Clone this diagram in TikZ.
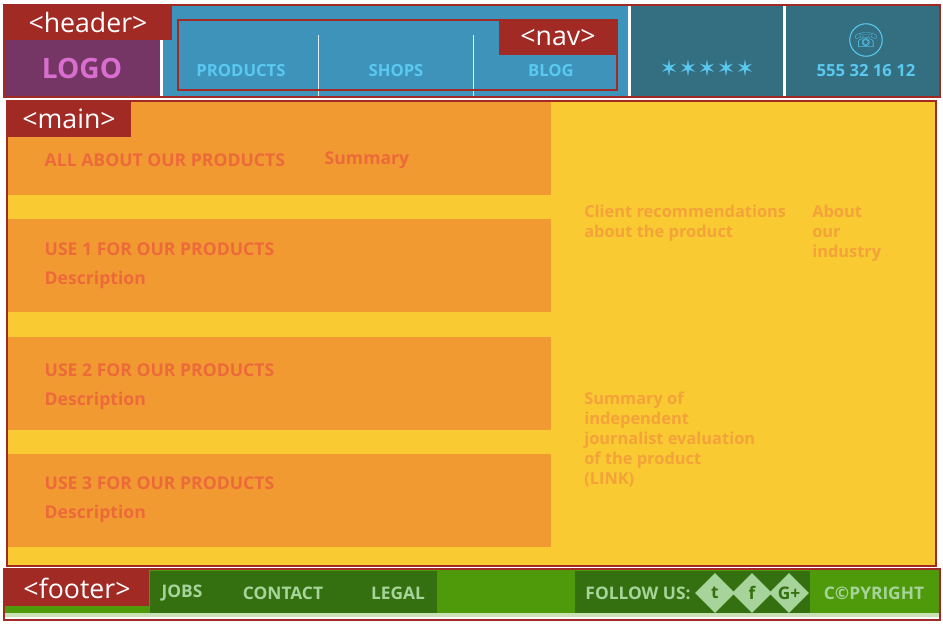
\documentclass[tikz,border=0pt]{standalone}
\usepackage{fontspec}
\setmainfont{Open Sans}
\newfontfamily\symfont{DejaVu Sans}
\usetikzlibrary{positioning, shapes.geometric}
\definecolor{frame}{HTML}{A12A25}
\definecolor{navblue}{HTML}{3D93BA}
\definecolor{teal}{HTML}{336F80}
\definecolor{skyblue}{HTML}{5BC8F0}
\definecolor{logopurple}{HTML}{753565}
\definecolor{logopink}{HTML}{D86FD0}
\definecolor{mainyellow}{HTML}{F9CA32}
\definecolor{blockorange}{HTML}{F19A32}
\definecolor{redtext}{HTML}{EC6A3A}
\definecolor{yellowtext}{HTML}{F4A23A}
\definecolor{lightgreen}{HTML}{4E9A0A}
\definecolor{darkgreen}{HTML}{34700F}
\definecolor{paletext}{HTML}{A6D49A}
\tikzset{
  tag/.style={fill=frame, text=white, font=\fontsize{20}{20}\selectfont, inner sep=0pt},
  menu/.style={text=skyblue, font=\bfseries\fontsize{12.5}{12.5}\selectfont},
  title/.style={text=redtext, font=\bfseries\fontsize{13.2}{13.2}\selectfont, anchor=west},
  side/.style={text=yellowtext, font=\bfseries\fontsize{12.3}{15}\selectfont, anchor=north west, align=left, inner sep=0pt},
  foot/.style={text=paletext, font=\bfseries\fontsize{13}{13}\selectfont},
  social/.style={diamond, fill=paletext, text=darkgreen, inner sep=0.5pt, minimum size=30pt, font=\bfseries\fontsize{13}{13}\selectfont}
}
\begin{document}
\begin{tikzpicture}[x=0.75pt, y=-0.75pt]
  \useasboundingbox (0,0) rectangle (943,625);
  \fill[white] (0,0) rectangle (943,625);

  % header
  \fill[navblue] (163,5) rectangle (628,97);
  \fill[teal] (631,5) rectangle (783,97);
  \fill[teal] (786,5) rectangle (940,97);
  \fill[logopurple] (4,40) rectangle (160,97);
  \draw[white!85!navblue, line width=0.4pt] (318,35) -- (318,97) (473,35) -- (473,97);
  \draw[frame, line width=1.2pt] (4,5) rectangle (940,97);
  \draw[frame, line width=1.2pt] (178,20) rectangle (617,90);
  \node[tag, minimum width=126pt, minimum height=26pt] (headertag) at (88,22.5) {<header>};
  \node[tag, minimum width=88pt, minimum height=26pt] (navtag) at (558,37.5) {<nav>};
  \node[text=logopink, font=\bfseries\fontsize{21}{21}\selectfont] (logo) at (82,68) {LOGO};
  \node[menu] (products) at (241,71) {PRODUCTS};
  \node[menu] (shops) at (396,71) {SHOPS};
  \node[menu] (blog) at (551,71) {BLOG};
  \node[text=skyblue, font=\symfont\fontsize{17}{17}\selectfont] (stars) at (707,68) {✶✶✶✶✶};
  \node[circle, draw=skyblue, thick, text=skyblue, inner sep=1pt, minimum size=24pt, font=\symfont\fontsize{15}{15}\selectfont] (phone) at (866,40) {☏};
  \node[menu] (number) at (866,71) {555 32 16 12};

  % main
  \fill[mainyellow] (7,101) rectangle (936,566);
  \foreach \t/\b in {101/195, 219/312, 337/430, 454/547}
    \fill[blockorange] (7,\t) rectangle (551,\b);
  \draw[frame, line width=1.2pt] (7,101) rectangle (936,566);
  \node[tag, minimum width=93pt, minimum height=27pt] (maintag) at (69,119) {<main>};
  \node[title] (allabout) at (40,160) {ALL ABOUT OUR PRODUCTS};
  \node[title] (summary) at (320,160) {Summary};
  \node[title] (use1) at (40,249) {USE 1 FOR OUR PRODUCTS};
  \node[title] (desc1) at (40,280) {Description};
  \node[title] (use2) at (40,370) {USE 2 FOR OUR PRODUCTS};
  \node[title] (desc2) at (40,401) {Description};
  \node[title] (use3) at (40,483) {USE 3 FOR OUR PRODUCTS};
  \node[title] (desc3) at (40,514) {Description};
  \node[side] (client) at (584,205) {Client recommendations\\about the product};
  \node[side] (industry) at (812,205) {About\\our\\industry};
  \node[side] (journal) at (584,392) {Summary of\\independent\\journalist evaluation\\of the product\\(LINK)};

  % footer
  \fill[lightgreen] (4,569) rectangle (940,613);
  \fill[darkgreen] (150,571) rectangle (437,615);
  \fill[darkgreen] (575,571) rectangle (810,615);
  \fill[white!70!lightgreen] (4,613) rectangle (940,617);
  \draw[frame, line width=1.2pt] (4,569) rectangle (940,620);
  \node[tag, minimum width=108pt, minimum height=27pt] (footertag) at (77,588) {<footer>};
  \node[foot] (jobs) at (182,593) {JOBS};
  \node[foot] (contact) at (283,593) {CONTACT};
  \node[foot] (legal) at (398,593) {LEGAL};
  \node[foot] (follow) at (638,593) {FOLLOW US:};
  \node[social] (twitter) at (715,593) {t};
  \node[social] (facebook) at (752,593) {f};
  \node[social] (gplus) at (789,593) {G+};
  \node[foot] (copyright) at (874,593) {C©PYRIGHT};
\end{tikzpicture}
\end{document}
